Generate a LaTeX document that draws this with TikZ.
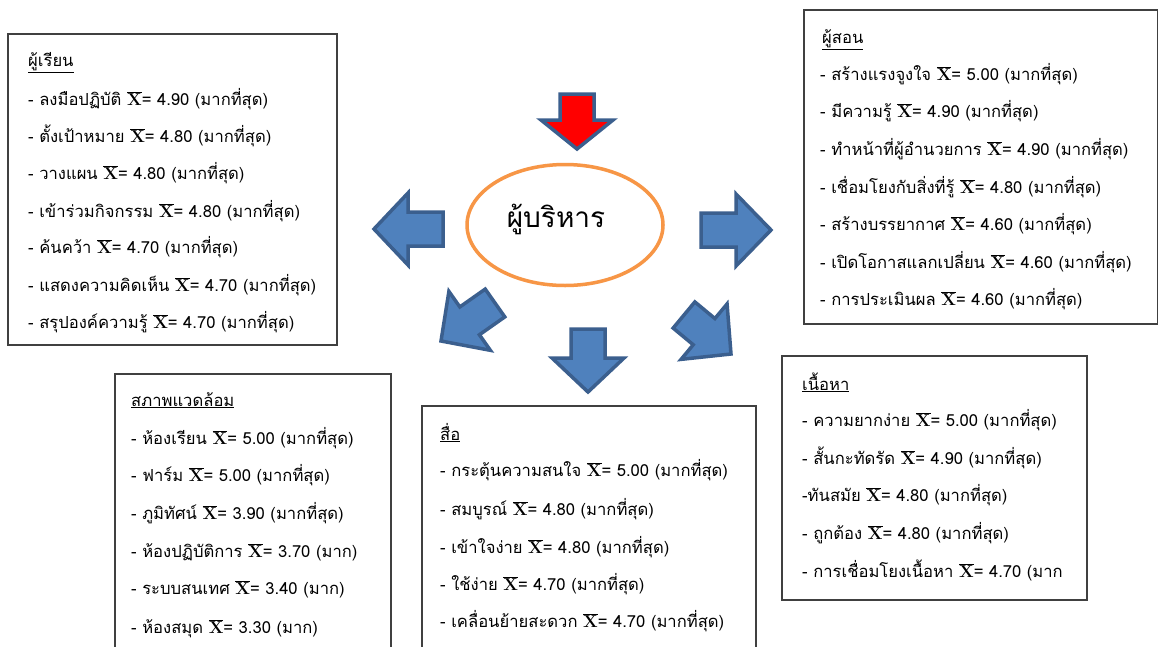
\documentclass[tikz,border=0pt]{standalone}
\usepackage[no-math]{fontspec}
\setmainfont[Script=Thai]{Loma}
\usetikzlibrary{calc,shapes.geometric}
\definecolor{abfill}{HTML}{4F81BD}
\definecolor{abline}{HTML}{3B5F8E}
\definecolor{orng}{HTML}{F79646}
\newcommand\xb{{\fontsize{17}{20}\selectfont$\overline{\mathbf{X}}$}}
\newcommand\blkarrow[4]{%
  \coordinate (T) at #2; \coordinate (B) at #3;
  \coordinate (H) at ($(T)!#4!(B)$);
  \draw[#1] (T) -- ($(H)!36pt!90:(T)$) -- ($(H)!17pt!90:(T)$) -- ($(B)!17pt!90:(T)$)
    -- ($(B)!17pt!-90:(T)$) -- ($(H)!17pt!-90:(T)$) -- ($(H)!36pt!-90:(T)$) -- cycle;}
\tikzset{
  boxline/.style={draw=black!75, line width=1.1pt},
  ln/.style={anchor=base west, inner sep=0pt, font=\fontsize{16.6}{19}\selectfont},
  blk/.style={fill=abfill, draw=abline, line width=3.5pt, line join=miter},
  redblk/.style={fill=red, draw=abline, line width=3.5pt, line join=miter},
}
\begin{document}
\begin{tikzpicture}[x=1pt,y=-1pt]
\useasboundingbox[fill=white] (0,0) rectangle (1158,646);
% boxes
\draw[boxline] (8,34) rectangle (337,345);
\draw[boxline] (804,10) rectangle (1157.4,324);
\draw[boxline] (115,650) -- (115,374) -- (391,374) -- (391,650);
\draw[boxline] (422,650) -- (422,406) -- (756,406) -- (756,650);
\draw[boxline] (782,356) rectangle (1087,600);
% centre
\node[ellipse, draw=orng, line width=3.5pt, minimum width=196pt, minimum height=121pt] (boss) at (565,225) {};
\node[inner sep=0pt, font=\fontsize{28}{30}\selectfont] (bosst) at (556,219) {ผู้บริหาร};
% arrows
\blkarrow{redblk}{(577,149)}{(577,94)}{29pt}
\blkarrow{blk}{(374,229)}{(443,229)}{34pt}
\blkarrow{blk}{(771,230)}{(701,230)}{35pt}
\blkarrow{blk}{(588,392)}{(588,329)}{34pt}
\blkarrow{blk}{(441,341)}{(495,303)}{35pt}
\blkarrow{blk}{(731,354)}{(684,315)}{35pt}
% box 1
\node[ln] (a0) at (28,66) {\underline{ผู้เรียน}};
\node[ln] (a1) at (28,105) {- ลงมือปฏิบัติ \xb= 4.90 (มากที่สุด)};
\node[ln] (a2) at (28,142) {- ตั้งเป้าหมาย \xb= 4.80 (มากที่สุด)};
\node[ln] (a3) at (28,179) {- วางแผน \xb= 4.80 (มากที่สุด)};
\node[ln] (a4) at (28,217) {- เข้าร่วมกิจกรรม \xb= 4.80 (มากที่สุด)};
\node[ln] (a5) at (28,253) {- ค้นคว้า \xb= 4.70 (มากที่สุด)};
\node[ln] (a6) at (28,291) {- แสดงความคิดเห็น \xb= 4.70 (มากที่สุด)};
\node[ln] (a7) at (28,328) {- สรุปองค์ความรู้ \xb= 4.70 (มากที่สุด)};
% box 2
\node[ln] (b0) at (822,43) {\underline{ผู้สอน}};
\node[ln] (b1) at (820,80) {- สร้างแรงจูงใจ \xb= 5.00 (มากที่สุด)};
\node[ln] (b2) at (820,117) {- มีความรู้ \xb= 4.90 (มากที่สุด)};
\node[ln] (b3) at (820,155) {- ทำหน้าที่ผู้อำนวยการ \xb= 4.90 (มากที่สุด)};
\node[ln] (b4) at (820,193) {- เชื่อมโยงกับสิ่งที่รู้ \xb= 4.80 (มากที่สุด)};
\node[ln] (b5) at (820,230) {- สร้างบรรยากาศ \xb= 4.60 (มากที่สุด)};
\node[ln] (b6) at (820,268) {- เปิดโอกาสแลกเปลี่ยน \xb= 4.60 (มากที่สุด)};
\node[ln] (b7) at (820,305) {- การประเมินผล \xb= 4.60 (มากที่สุด)};
% box 3
\node[ln] (c0) at (131,406) {\underline{สภาพแวดล้อม}};
\node[ln] (c1) at (131,444) {- ห้องเรียน \xb= 5.00 (มากที่สุด)};
\node[ln] (c2) at (131,481) {- ฟาร์ม \xb= 5.00 (มากที่สุด)};
\node[ln] (c3) at (131,519) {- ภูมิทัศน์ \xb= 3.90 (มากที่สุด)};
\node[ln] (c4) at (131,557) {- ห้องปฏิบัติการ \xb= 3.70 (มาก)};
\node[ln] (c5) at (131,594) {- ระบบสนเทศ \xb= 3.40 (มาก)};
\node[ln] (c6) at (131,633) {- ห้องสมุด \xb= 3.30 (มาก)};
% box 4
\node[ln] (d0) at (440,440) {\underline{สื่อ}};
\node[ln] (d1) at (440,476) {- กระตุ้นความสนใจ \xb= 5.00 (มากที่สุด)};
\node[ln] (d2) at (440,515) {- สมบูรณ์ \xb= 4.80 (มากที่สุด)};
\node[ln] (d3) at (440,553) {- เข้าใจง่าย \xb= 4.80 (มากที่สุด)};
\node[ln] (d4) at (440,590) {- ใช้ง่าย \xb= 4.70 (มากที่สุด)};
\node[ln] (d5) at (440,627) {- เคลื่อนย้ายสะดวก \xb= 4.70 (มากที่สุด)};
% box 5
\node[ln] (e0) at (802,390) {\underline{เนื้อหา}};
\node[ln] (e1) at (802,426) {- ความยากง่าย \xb= 5.00 (มากที่สุด)};
\node[ln] (e2) at (802,464) {- สั้นกะทัดรัด \xb= 4.90 (มากที่สุด)};
\node[ln] (e3) at (802,501) {-ทันสมัย \xb= 4.80 (มากที่สุด)};
\node[ln] (e4) at (802,539) {- ถูกต้อง \xb= 4.80 (มากที่สุด)};
\node[ln] (e5) at (802,577) {- การเชื่อมโยงเนื้อหา \xb= 4.70 (มาก};
\end{tikzpicture}
\end{document}
